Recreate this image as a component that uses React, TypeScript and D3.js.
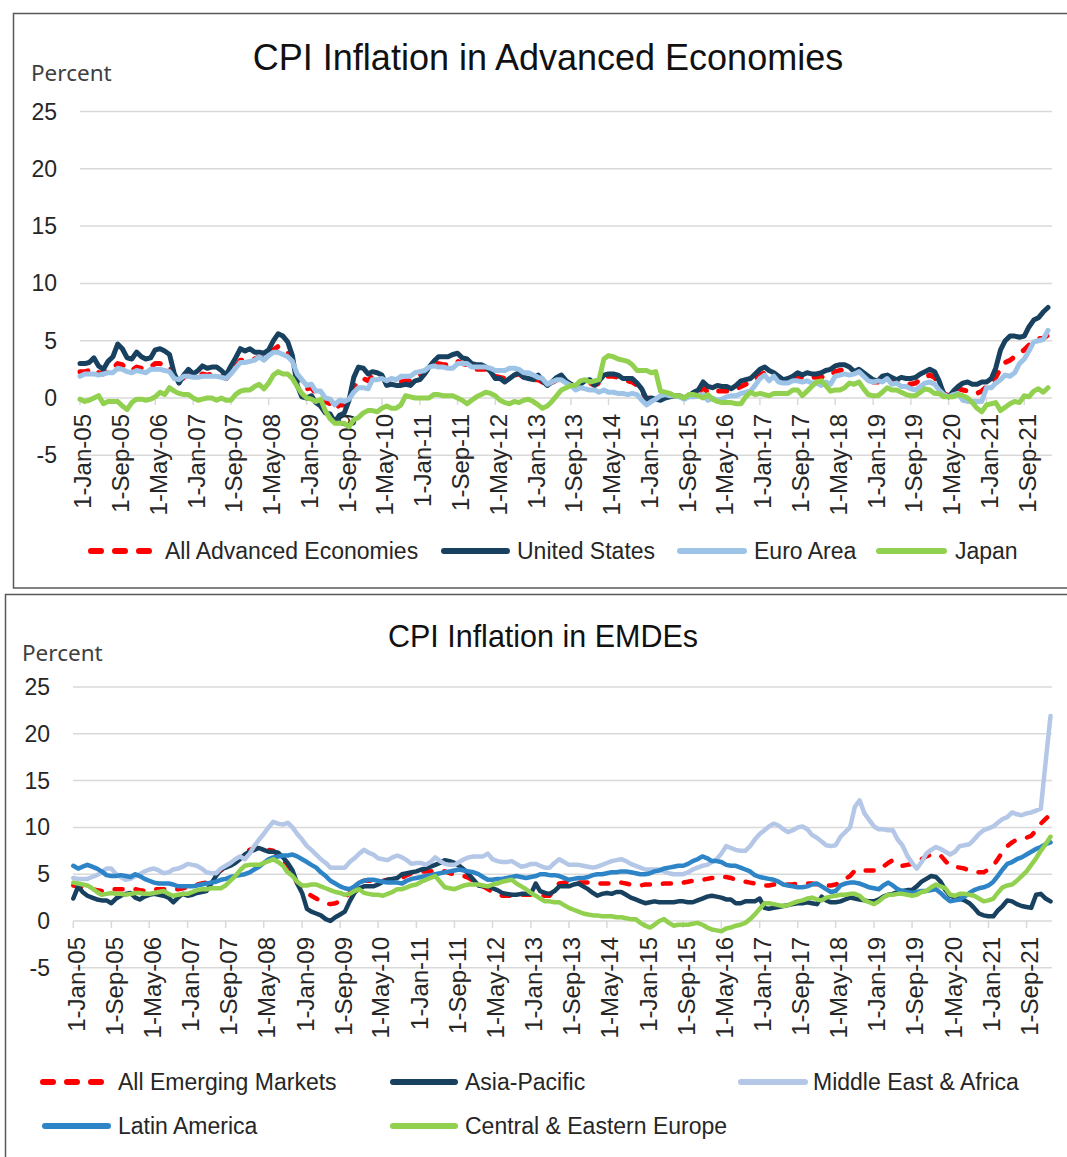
import React from "react";
import * as d3 from "d3";

// monthly observations, Jan 2005 .. Feb 2022
const dates = d3.timeMonth.range(new Date(2005, 0, 1), new Date(2022, 2, 1));

const tickLabels = [
  "1-Jan-05", "1-Sep-05", "1-May-06", "1-Jan-07", "1-Sep-07", "1-May-08",
  "1-Jan-09", "1-Sep-09", "1-May-10", "1-Jan-11", "1-Sep-11", "1-May-12",
  "1-Jan-13", "1-Sep-13", "1-May-14", "1-Jan-15", "1-Sep-15", "1-May-16",
  "1-Jan-17", "1-Sep-17", "1-May-18", "1-Jan-19", "1-Sep-19", "1-May-20",
  "1-Jan-21", "1-Sep-21",
];
const yTicks = [-5, 0, 5, 10, 15, 20, 25];

// ---- Advanced economies ----
const allAdvanced = [
  2.3, 2.3, 2.4, 2.6, 2.2, 2.1, 2.5, 2.6, 3.0, 2.9, 2.5, 2.4,
  2.7, 2.6, 2.5, 2.7, 3.0, 3.0, 2.9, 2.8, 1.8, 1.4, 1.8, 2.0,
  1.8, 1.9, 2.1, 2.0, 2.1, 2.1, 1.9, 1.7, 2.2, 2.7, 3.3, 3.3,
  3.4, 3.4, 3.6, 3.4, 3.8, 4.2, 4.5, 4.3, 4.0, 3.3, 1.9, 1.1,
  0.8, 0.9, 0.4, 0.3, -0.3, -0.5, -1.0, -0.6, -0.6, -0.2, 0.9, 1.5,
  1.7, 1.5, 1.9, 1.9, 1.8, 1.3, 1.4, 1.3, 1.4, 1.5, 1.5, 1.8,
  2.0, 2.2, 2.6, 2.9, 3.0, 2.9, 2.9, 3.0, 3.2, 3.0, 2.9, 2.6,
  2.5, 2.5, 2.5, 2.3, 1.9, 1.8, 1.7, 1.9, 2.0, 2.1, 1.8, 1.7,
  1.6, 1.6, 1.4, 1.1, 1.3, 1.6, 1.7, 1.4, 1.2, 0.9, 1.1, 1.3,
  1.3, 1.1, 1.3, 1.8, 1.9, 1.9, 1.8, 1.6, 1.5, 1.4, 1.1, 0.6,
  -0.1, 0.1, 0.1, 0.1, 0.2, 0.2, 0.2, 0.2, 0.0, 0.2, 0.4, 0.5,
  0.9, 0.5, 0.5, 0.6, 0.6, 0.6, 0.6, 0.8, 1.0, 1.2, 1.3, 1.6,
  2.0, 2.2, 1.9, 2.0, 1.7, 1.5, 1.5, 1.7, 1.9, 1.8, 1.9, 1.8,
  1.8, 1.8, 2.0, 2.0, 2.3, 2.4, 2.5, 2.4, 2.3, 2.4, 2.0, 1.6,
  1.4, 1.4, 1.6, 1.8, 1.5, 1.4, 1.4, 1.3, 1.2, 1.3, 1.6, 1.8,
  2.0, 1.8, 1.2, 0.4, 0.2, 0.5, 0.8, 0.7, 0.6, 0.5, 0.4, 0.6,
  1.0, 1.3, 1.8, 2.6, 3.1, 3.3, 3.6, 3.9, 4.2, 4.6, 5.0, 5.2,
  5.2, 5.5,
];
const unitedStates = [
  3.0, 3.0, 3.1, 3.5, 2.8, 2.5, 3.2, 3.6, 4.7, 4.3, 3.5, 3.4,
  4.0, 3.6, 3.4, 3.5, 4.2, 4.3, 4.1, 3.8, 2.1, 1.3, 2.0, 2.5,
  2.1, 2.4, 2.8, 2.6, 2.7, 2.7, 2.4, 2.0, 2.8, 3.5, 4.3, 4.1,
  4.3, 4.0, 4.0, 3.9, 4.2, 5.0, 5.6, 5.4, 4.9, 3.7, 1.1, 0.1,
  0.0, 0.2, -0.4, -0.7, -1.3, -1.4, -2.1, -1.5, -1.3, -0.2, 1.8, 2.7,
  2.6, 2.1, 2.3, 2.2, 2.0, 1.1, 1.2, 1.1, 1.1, 1.2, 1.1, 1.5,
  1.6, 2.1, 2.7, 3.2, 3.6, 3.6, 3.6, 3.8, 3.9, 3.5, 3.4, 3.0,
  2.9, 2.9, 2.7, 2.3, 1.7, 1.7, 1.4, 1.7, 2.0, 2.2, 1.8, 1.7,
  1.6, 2.0, 1.5, 1.1, 1.4, 1.8, 2.0, 1.5, 1.2, 1.0, 1.2, 1.5,
  1.6, 1.1, 1.5, 2.0, 2.1, 2.1, 2.0, 1.7, 1.7, 1.7, 1.3, 0.8,
  -0.1, 0.0, -0.1, -0.2, 0.0, 0.1, 0.2, 0.2, 0.0, 0.2, 0.5, 0.7,
  1.4, 1.0, 0.9, 1.1, 1.0, 1.0, 0.8, 1.1, 1.5, 1.6, 1.7, 2.1,
  2.5, 2.7, 2.4, 2.2, 1.9, 1.6, 1.7, 1.9, 2.2, 2.0, 2.2, 2.1,
  2.1, 2.2, 2.4, 2.5, 2.8, 2.9, 2.9, 2.7, 2.3, 2.5, 2.2, 1.9,
  1.6, 1.5, 1.9, 2.0, 1.8, 1.6, 1.8, 1.7, 1.7, 1.8, 2.1, 2.3,
  2.5, 2.3, 1.5, 0.3, 0.1, 0.6, 1.0, 1.3, 1.4, 1.2, 1.2, 1.4,
  1.4, 1.7, 2.6, 4.2, 5.0, 5.4, 5.4, 5.3, 5.4, 6.2, 6.8, 7.0,
  7.5, 7.9,
];
const euroArea = [
  1.9, 2.1, 2.1, 2.1, 2.0, 2.1, 2.2, 2.2, 2.6, 2.5, 2.3, 2.2,
  2.4, 2.3, 2.2, 2.5, 2.5, 2.5, 2.4, 2.3, 1.7, 1.6, 1.9, 1.9,
  1.8, 1.8, 1.9, 1.9, 1.9, 1.9, 1.8, 1.7, 2.1, 2.6, 3.1, 3.1,
  3.2, 3.3, 3.6, 3.3, 3.7, 4.0, 4.0, 3.8, 3.6, 3.2, 2.1, 1.6,
  1.1, 1.2, 0.6, 0.6, 0.0, -0.1, -0.6, -0.2, -0.3, -0.1, 0.5, 0.9,
  0.9, 0.8, 1.6, 1.6, 1.7, 1.5, 1.7, 1.6, 1.9, 1.9, 1.9, 2.2,
  2.3, 2.4, 2.7, 2.8, 2.7, 2.7, 2.6, 2.6, 3.0, 3.0, 3.0, 2.7,
  2.7, 2.7, 2.7, 2.6, 2.4, 2.4, 2.4, 2.6, 2.6, 2.5, 2.2, 2.2,
  2.0, 1.8, 1.7, 1.2, 1.4, 1.6, 1.6, 1.3, 1.1, 0.7, 0.9, 0.8,
  0.7, 0.7, 0.5, 0.7, 0.5, 0.5, 0.4, 0.4, 0.3, 0.4, 0.3, -0.2,
  -0.6, -0.3, -0.1, 0.2, 0.3, 0.2, 0.2, 0.1, -0.1, 0.1, 0.1, 0.2,
  0.3, -0.2, 0.0, -0.2, -0.1, 0.1, 0.2, 0.2, 0.4, 0.5, 0.6, 1.1,
  1.7, 2.0, 1.5, 1.9, 1.4, 1.3, 1.3, 1.5, 1.5, 1.4, 1.5, 1.3,
  1.3, 1.1, 1.4, 1.2, 1.9, 2.0, 2.1, 2.0, 2.1, 2.3, 1.9, 1.5,
  1.4, 1.5, 1.4, 1.7, 1.2, 1.3, 1.0, 1.0, 0.8, 0.7, 1.0, 1.3,
  1.4, 1.2, 0.7, 0.3, 0.1, 0.3, 0.4, -0.2, -0.3, -0.3, -0.3, -0.3,
  0.9, 0.9, 1.3, 1.6, 2.0, 1.9, 2.2, 3.0, 3.4, 4.1, 4.9, 5.0,
  5.1, 5.9,
];
const japan = [
  -0.1, -0.3, -0.2, 0.0, 0.2, -0.5, -0.3, -0.3, -0.3, -0.7, -1.0, -0.4,
  -0.1, -0.1, -0.2, -0.1, 0.1, 0.5, 0.3, 0.9, 0.6, 0.4, 0.3, 0.3,
  0.0, -0.2, -0.1, 0.0, 0.0, -0.2, 0.0, -0.2, -0.2, 0.3, 0.6, 0.7,
  0.7, 1.0, 1.2, 0.8, 1.3, 2.0, 2.3, 2.1, 2.1, 1.7, 1.0, 0.4,
  0.0, -0.1, -0.3, -0.1, -1.1, -1.8, -2.2, -2.2, -2.2, -2.5, -1.9, -1.7,
  -1.3, -1.1, -1.1, -1.2, -0.9, -0.7, -0.9, -0.9, -0.6, 0.2, 0.1, 0.0,
  0.0, 0.0, 0.0, 0.3, 0.3, 0.2, 0.2, 0.2, 0.0, -0.2, -0.5, -0.2,
  0.1, 0.3, 0.5, 0.4, 0.2, -0.2, -0.4, -0.5, -0.3, -0.4, -0.2, -0.1,
  -0.3, -0.6, -0.9, -0.7, -0.3, 0.2, 0.7, 0.9, 1.1, 1.1, 1.5, 1.6,
  1.4, 1.5, 1.6, 3.4, 3.7, 3.6, 3.4, 3.3, 3.2, 2.9, 2.4, 2.4,
  2.4, 2.2, 2.3, 0.6, 0.5, 0.4, 0.2, 0.2, 0.0, 0.3, 0.3, 0.2,
  0.0, 0.3, -0.1, -0.3, -0.4, -0.4, -0.4, -0.5, -0.5, 0.1, 0.5, 0.3,
  0.4, 0.3, 0.2, 0.4, 0.4, 0.4, 0.4, 0.7, 0.7, 0.2, 0.6, 1.0,
  1.4, 1.5, 1.1, 0.6, 0.7, 0.7, 0.9, 1.3, 1.2, 1.4, 0.8, 0.3,
  0.2, 0.2, 0.5, 0.9, 0.7, 0.7, 0.5, 0.3, 0.2, 0.2, 0.5, 0.8,
  0.7, 0.4, 0.4, 0.1, 0.1, 0.1, 0.3, 0.2, 0.0, -0.4, -0.9, -1.2,
  -0.6, -0.5, -0.4, -1.1, -0.8, -0.5, -0.3, -0.4, 0.2, 0.1, 0.6, 0.8,
  0.5, 0.9,
];

// ---- EMDEs ----
const allEmerging = [
  3.8, 3.7, 3.6, 3.5, 3.4, 3.3, 3.2, 3.3, 3.4, 3.4, 3.4, 3.4,
  3.4, 3.4, 3.3, 3.2, 3.3, 3.4, 3.4, 3.4, 3.4, 3.4, 3.4, 3.5,
  3.6, 3.8, 3.9, 4.0, 4.1, 4.6, 5.1, 5.4, 5.7, 6.0, 6.3, 6.8,
  7.2, 7.6, 7.8, 7.9, 7.8, 7.6, 7.5, 7.1, 6.6, 5.9, 5.0, 4.0,
  3.4, 3.0, 2.7, 2.4, 2.1, 1.9, 1.8, 1.9, 2.1, 2.5, 3.0, 3.6,
  4.2, 4.3, 4.3, 4.3, 4.3, 4.3, 4.4, 4.4, 4.4, 4.6, 4.9, 5.1,
  5.3, 5.3, 5.3, 5.3, 5.4, 5.4, 5.3, 5.1, 5.0, 4.9, 4.8, 4.6,
  4.3, 4.0, 3.7, 3.4, 3.1, 2.9, 2.7, 2.7, 2.7, 2.7, 2.8, 2.8,
  2.8, 2.8, 2.8, 2.7, 2.7, 3.4, 4.0, 4.1, 4.1, 4.1, 4.1, 4.1,
  4.1, 4.0, 4.0, 4.0, 4.0, 4.0, 4.1, 4.1, 4.0, 3.9, 3.8, 3.8,
  3.9, 3.9, 3.9, 3.9, 4.0, 4.0, 4.0, 4.0, 4.1, 4.2, 4.3, 4.3,
  4.4, 4.5, 4.6, 4.6, 4.7, 4.7, 4.6, 4.4, 4.3, 4.2, 4.1, 4.0,
  3.9, 3.8, 3.8, 3.9, 3.9, 3.9, 3.9, 3.9, 4.0, 4.0, 4.0, 4.0,
  3.9, 3.9, 3.8, 3.8, 3.9, 4.1, 4.5, 4.8, 5.4, 5.5, 5.4, 5.4,
  5.4, 5.4, 5.8, 6.2, 6.5, 6.3, 5.9, 6.0, 6.1, 6.2, 6.6, 6.9,
  7.1, 7.1, 7.0, 6.4, 5.9, 5.8, 5.7, 5.6, 5.4, 5.3, 5.2, 5.2,
  5.5, 5.9, 6.6, 7.4, 8.0, 8.4, 8.7, 8.8, 8.9, 9.1, 9.7, 10.4,
  10.9, 11.4,
];
const asiaPacific = [
  2.4, 3.7, 3.1, 2.7, 2.5, 2.3, 2.2, 2.2, 1.9, 2.4, 2.7, 2.9,
  3.0, 2.5, 2.3, 2.6, 2.8, 2.9, 2.8, 2.7, 2.5, 2.0, 2.5, 2.9,
  2.7, 2.8, 3.0, 3.1, 3.2, 4.0, 4.8, 5.5, 5.7, 5.9, 6.2, 6.6,
  7.1, 7.4, 7.6, 7.8, 7.6, 7.4, 7.4, 7.3, 6.8, 6.2, 5.4, 4.0,
  3.0, 1.3, 1.0, 0.8, 0.6, 0.2, 0.0, 0.4, 0.7, 1.0, 2.1, 3.0,
  3.5, 3.7, 3.7, 3.7, 3.9, 4.2, 4.4, 4.5, 4.6, 5.0, 5.1, 5.2,
  5.3, 5.5, 5.6, 5.8, 6.0, 6.2, 6.5, 6.4, 6.2, 5.9, 5.5, 5.0,
  4.4, 3.8, 3.7, 3.7, 3.5, 3.3, 3.0, 2.9, 2.8, 2.8, 2.9, 2.9,
  2.9, 4.0, 3.2, 3.0, 2.9, 3.2, 3.7, 3.7, 3.7, 3.9, 4.0, 3.7,
  3.4, 3.0, 2.7, 2.9, 3.0, 2.9, 3.1, 3.1, 2.8, 2.5, 2.3, 2.1,
  1.9, 2.0, 2.1, 2.0, 2.0, 2.0, 2.0, 2.1, 2.1, 2.0, 2.0, 2.2,
  2.4, 2.6, 2.7, 2.6, 2.5, 2.3, 2.3, 1.9, 1.9, 2.1, 2.1, 2.1,
  2.4, 1.4, 1.3, 1.4, 1.5, 1.6, 1.7, 1.8, 1.9, 1.9, 2.0, 1.9,
  1.8, 2.6, 2.2, 2.0, 2.0, 2.1, 2.3, 2.5, 2.4, 2.3, 2.2, 2.1,
  2.1, 2.3, 2.6, 2.8, 2.9, 3.1, 3.2, 3.3, 3.3, 3.7, 4.2, 4.5,
  4.8, 4.7, 4.2, 3.3, 2.7, 2.5, 2.4, 2.2, 1.9, 1.4, 0.8, 0.6,
  0.5, 0.5, 1.1, 1.6, 2.2, 2.1, 1.8, 1.6, 1.5, 1.4, 2.8, 2.9,
  2.4, 2.1,
];
const middleEastAfrica = [
  4.6, 4.5, 4.5, 4.5, 4.7, 4.9, 5.2, 5.6, 5.6, 5.0, 4.7, 4.4,
  4.5, 4.8, 5.0, 5.3, 5.5, 5.6, 5.4, 5.1, 5.2, 5.5, 5.6, 5.8,
  6.1, 6.0, 5.9, 5.6, 5.2, 5.1, 5.1, 5.6, 5.9, 6.2, 6.6, 6.9,
  6.6, 7.2, 8.0, 8.7, 9.3, 10.0, 10.6, 10.4, 10.3, 10.5, 10.0, 9.3,
  8.7, 8.0, 7.6, 7.1, 6.6, 6.2, 5.7, 5.7, 5.7, 5.7, 6.3, 6.7,
  7.2, 7.6, 7.3, 7.1, 6.7, 6.6, 6.5, 6.8, 7.0, 6.8, 6.5, 6.1,
  6.2, 6.2, 6.0, 6.3, 6.8, 6.4, 6.1, 6.0, 6.0, 6.3, 6.6, 6.8,
  6.9, 6.9, 6.9, 7.2, 6.6, 6.4, 6.3, 6.3, 6.4, 6.1, 5.8, 5.9,
  6.1, 6.1, 5.9, 5.7, 5.7, 6.2, 6.6, 6.3, 6.0, 6.0, 6.0, 5.9,
  5.8, 5.7, 5.8, 6.0, 6.2, 6.4, 6.5, 6.6, 6.4, 6.1, 5.9, 5.7,
  5.5, 5.5, 5.5, 5.5, 5.3, 5.1, 5.0, 5.0, 5.0, 5.2, 5.5, 5.7,
  5.9, 6.0, 6.3, 6.6, 7.2, 8.0, 7.8, 7.6, 7.5, 7.5, 8.0, 8.7,
  9.3, 9.7, 10.1, 10.4, 10.2, 9.8, 9.5, 9.7, 10.0, 10.1, 9.8, 9.2,
  8.9, 8.5, 8.1, 8.0, 8.1, 9.0, 9.5, 10.0, 12.2, 12.9, 11.5, 10.8,
  10.1, 9.8, 9.8, 9.7, 9.7, 8.7, 8.1, 7.0, 6.2, 5.6, 6.3, 7.2,
  7.6, 7.9, 7.7, 7.4, 7.1, 7.4, 8.0, 8.1, 8.2, 8.7, 9.3, 9.7,
  9.9, 10.1, 10.5, 10.9, 11.1, 11.6, 11.4, 11.3, 11.5, 11.6, 11.8, 12.0,
  17.0, 21.9,
];
const latinAmerica = [
  5.9, 5.6, 5.8, 6.0, 5.8, 5.6, 5.3, 4.9, 4.8, 4.8, 4.9, 4.8,
  4.7, 5.0, 4.8, 4.5, 4.3, 4.1, 4.0, 4.0, 4.0, 3.9, 3.7, 3.7,
  3.7, 3.7, 3.8, 3.9, 4.0, 4.1, 4.2, 4.4, 4.5, 4.7, 4.8, 4.9,
  5.0, 5.2, 5.5, 5.8, 6.2, 6.6, 6.8, 6.9, 7.0, 7.0, 7.1, 6.9,
  6.6, 6.3, 6.0, 5.7, 5.2, 4.8, 4.3, 4.0, 3.7, 3.5, 3.4, 3.7,
  4.1, 4.3, 4.4, 4.4, 4.3, 4.2, 4.1, 4.1, 4.1, 4.0, 4.3, 4.5,
  4.6, 4.7, 4.8, 4.9, 5.0, 5.1, 5.2, 5.3, 5.4, 5.5, 5.4, 5.3,
  5.2, 5.0, 4.7, 4.4, 4.4, 4.5, 4.5, 4.6, 4.7, 4.8, 4.7, 4.6,
  4.7, 4.8, 5.0, 5.0, 4.9, 4.9, 4.8, 4.6, 4.4, 4.5, 4.6, 4.6,
  4.7, 4.9, 5.0, 5.0, 5.1, 5.2, 5.2, 5.3, 5.3, 5.2, 5.1, 5.0,
  5.0, 5.1, 5.3, 5.4, 5.6, 5.7, 5.8, 5.9, 5.9, 6.1, 6.4, 6.6,
  6.9, 6.7, 6.4, 6.4, 6.3, 6.0, 5.9, 5.9, 5.7, 5.5, 5.3, 4.9,
  4.7, 4.6, 4.5, 4.4, 4.2, 3.9, 3.8, 3.7, 3.6, 3.6, 3.7, 3.9,
  4.0, 3.7, 3.4, 3.1, 3.2, 3.8, 4.0, 4.1, 4.1, 4.0, 3.8, 3.6,
  3.5, 3.4, 3.8, 4.1, 3.8, 3.4, 3.2, 3.1, 3.0, 3.1, 3.2, 3.2,
  3.3, 3.4, 3.0, 2.5, 2.1, 2.2, 2.3, 2.6, 3.0, 3.3, 3.5, 3.6,
  3.8, 4.2, 4.8, 5.5, 6.1, 6.3, 6.6, 6.8, 7.1, 7.4, 7.7, 7.9,
  8.2, 8.4,
];
const centralEasternEurope = [
  4.1, 4.0, 3.9, 3.8, 3.5, 3.1, 2.8, 2.9, 3.0, 2.9, 2.9, 2.8,
  2.9, 3.0, 3.0, 2.9, 2.9, 3.0, 3.1, 3.2, 2.9, 2.7, 2.8, 2.9,
  2.9, 3.1, 3.3, 3.4, 3.4, 3.5, 3.5, 3.5, 3.8, 4.3, 4.8, 5.4,
  5.9, 6.0, 6.0, 6.0, 6.2, 6.4, 6.6, 6.3, 5.9, 5.2, 4.8, 4.2,
  3.8, 3.8, 3.9, 3.9, 3.7, 3.5, 3.3, 3.1, 3.0, 2.8, 2.9, 3.2,
  3.4, 3.0, 2.9, 2.8, 2.8, 2.7, 2.9, 3.1, 3.4, 3.4, 3.6, 3.8,
  3.9, 4.2, 4.4, 4.6, 4.8, 4.2, 3.6, 3.5, 3.4, 3.6, 3.8, 3.9,
  3.9, 3.9, 3.8, 3.7, 3.9, 4.0, 4.2, 4.3, 4.4, 4.0, 3.7, 3.4,
  3.0, 2.7, 2.4, 2.1, 2.1, 2.0, 2.0, 1.7, 1.4, 1.2, 1.0, 0.8,
  0.7, 0.6, 0.6, 0.5, 0.5, 0.5, 0.4, 0.4, 0.3, 0.2, 0.2, -0.2,
  -0.5, -0.7, -0.4, 0.0, 0.2, -0.2, -0.5, -0.4, -0.4, -0.4, -0.3, -0.2,
  -0.4, -0.7, -0.9, -1.0, -1.1, -0.8, -0.7, -0.5, -0.4, -0.2, 0.2, 0.7,
  1.3, 1.9, 1.9, 1.8, 1.7, 1.6, 1.7, 1.9, 2.1, 2.2, 2.4, 2.5,
  2.3, 2.2, 2.5, 2.6, 2.7, 2.8, 2.8, 2.9, 2.9, 2.7, 2.2, 2.0,
  1.8, 2.1, 2.5, 2.8, 2.8, 2.9, 2.9, 2.8, 2.7, 2.8, 3.1, 3.2,
  3.6, 3.9, 3.7, 3.5, 2.8, 2.7, 2.9, 2.9, 2.8, 2.7, 2.4, 2.1,
  2.2, 2.4, 3.0, 3.6, 3.8, 3.9, 4.3, 4.8, 5.3, 6.0, 6.7, 7.5,
  8.2, 9.0,
];

const RED = "#FF0000";
const NAVY = "#17415F";
const FONT = "'Liberation Sans', Arial, sans-serif";

const topSeries = [
  { name: "All Advanced Economies", values: allAdvanced, color: RED, dashed: true },
  { name: "United States", values: unitedStates, color: NAVY },
  { name: "Euro Area", values: euroArea, color: "#9DC3E6" },
  { name: "Japan", values: japan, color: "#92D050" },
];
const bottomSeries = [
  { name: "All Emerging Markets", values: allEmerging, color: RED, dashed: true },
  { name: "Asia-Pacific", values: asiaPacific, color: NAVY },
  { name: "Middle East & Africa", values: middleEastAfrica, color: "#B4C7E7" },
  { name: "Latin America", values: latinAmerica, color: "#2D84C6" },
  { name: "Central & Eastern Europe", values: centralEasternEurope, color: "#92D050" },
];

// legend placement: [sample start, sample end, text x, row y]
const topLegend = [
  [88, 153, 165, 551],
  [441, 510, 517, 551],
  [677, 747, 754, 551],
  [876, 947, 955, 551],
];
const bottomLegend = [
  [40, 107, 118, 1082],
  [390, 458, 465, 1082],
  [738, 808, 813, 1082],
  [42, 111, 118, 1126],
  [390, 458, 465, 1126],
];

function Panel({ cfg, series, legend }) {
  const x = d3
    .scaleTime()
    .domain([dates[0], dates[dates.length - 1]])
    .range([cfg.x0, cfg.x1]);
  const y = d3.scaleLinear().domain([-5, 25]).range([cfg.yBottom, cfg.yTop]);
  const line = d3
    .line<number>()
    .x((_, i) => x(dates[i]))
    .y((d) => y(d));
  const zero = y(0);

  return (
    <g>
      <rect
        x={cfg.boxX}
        y={cfg.boxY}
        width={1200}
        height={cfg.boxH}
        fill="#fff"
        stroke="#595959"
        strokeWidth={1.5}
      />
      <text
        x={cfg.titleX}
        y={cfg.titleY}
        textAnchor="middle"
        fontFamily={FONT}
        fontSize={cfg.titleSize}
        fill="#111"
      >
        {cfg.title}
      </text>
      <text
        x={cfg.percentX}
        y={cfg.percentY}
        fontFamily="'Noto Sans', sans-serif"
        fontSize={22.5}
        fill="#404040"
      >
        Percent
      </text>

      {/* gridlines + y labels */}
      {yTicks.map((t) => (
        <g key={t}>
          <line
            x1={cfg.gridX0}
            x2={cfg.gridX1}
            y1={y(t)}
            y2={y(t)}
            stroke="#D9D9D9"
            strokeWidth={1.5}
          />
          <text
            x={cfg.yLabelX}
            y={y(t)}
            dy="0.35em"
            textAnchor="end"
            fontFamily={FONT}
            fontSize={23}
            fill="#262626"
          >
            {t}
          </text>
        </g>
      ))}

      {/* x ticks */}
      {tickLabels.map((lab, k) => {
        const tx = x(dates[k * 8]);
        return (
          <g key={lab}>
            <line x1={tx} x2={tx} y1={zero} y2={zero + 7} stroke="#D9D9D9" strokeWidth={1.5} />
            <text
              transform={`translate(${tx + 3},${zero + 16}) rotate(-90)`}
              dy="0.35em"
              textAnchor="end"
              fontFamily={FONT}
              fontSize={24}
              fill="#262626"
            >
              {lab}
            </text>
          </g>
        );
      })}

      {series.map((s) => (
        <path
          key={s.name}
          d={line(s.values)}
          fill="none"
          stroke={s.color}
          strokeWidth={cfg.lineW}
          strokeLinejoin="round"
          strokeLinecap="round"
          strokeDasharray={s.dashed ? "8 13" : undefined}
        />
      ))}

      {series.map((s, i) => {
        const [a, b, tx, ly] = legend[i];
        return (
          <g key={"lg" + s.name}>
            <line
              x1={a + 3}
              x2={b - 3}
              y1={ly}
              y2={ly}
              stroke={s.color}
              strokeWidth={6}
              strokeLinecap="round"
              strokeDasharray={s.dashed ? "10 14" : undefined}
            />
            <text x={tx} y={ly} dy="0.35em" fontFamily={FONT} fontSize={23} fill="#262626">
              {s.name}
            </text>
          </g>
        );
      })}
    </g>
  );
}

const topCfg = {
  boxX: 13.5, boxY: 13.5, boxH: 574.5,
  title: "CPI Inflation in Advanced Economies", titleX: 548, titleY: 70, titleSize: 36,
  percentX: 31, percentY: 81,
  x0: 80, x1: 1048, gridX0: 80, gridX1: 1052,
  yTop: 111.5, yBottom: 455.3, yLabelX: 57, lineW: 5,
};
const bottomCfg = {
  boxX: 5.5, boxY: 594.5, boxH: 600,
  title: "CPI Inflation in EMDEs", titleX: 543, titleY: 647, titleSize: 30.5,
  percentX: 22, percentY: 661,
  x0: 73.3, x1: 1050.5, gridX0: 73, gridX1: 1052,
  yTop: 687, yBottom: 967.8, yLabelX: 50, lineW: 4.5,
};

export default function App() {
  return (
    <svg
      width={1067}
      height={1157}
      style={{ position: "absolute", left: 0, top: 0, background: "#fff" }}
    >
      <rect width={1067} height={1157} fill="#fff" />
      <Panel cfg={topCfg} series={topSeries} legend={topLegend} />
      <Panel cfg={bottomCfg} series={bottomSeries} legend={bottomLegend} />
    </svg>
  );
}
